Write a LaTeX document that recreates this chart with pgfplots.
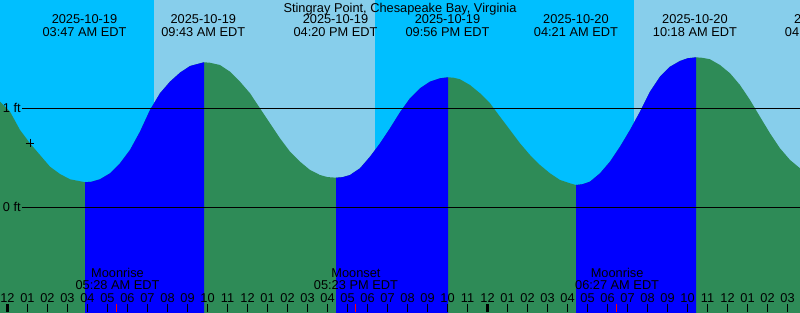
\documentclass[border=0pt]{standalone}
\usepackage{pgfplots}
\pgfplotsset{compat=1.18}
\usepackage{fontspec}
\setmainfont{Liberation Sans}
\definecolor{nightsky}{HTML}{00BFFF}
\definecolor{daysky}{HTML}{87CEEB}
\definecolor{ebb}{HTML}{2E8B57}
\definecolor{flood}{HTML}{0000FF}
\newcommand{\lf}{\fontsize{12.8}{14}\selectfont}
\begin{document}
\begin{tikzpicture}
\begin{axis}[
  scale only axis, width=800pt, height=312pt,
  xmin=-0.375, xmax=39.625, ymin=-1.058, ymax=2.094,
  axis line style={draw=none},
  axis on top=true,
  ytick=\empty,
  xtick={0,...,39},
  xticklabels={12,01,02,03,04,05,06,07,08,09,10,11,12,01,02,03,04,05,06,07,08,09,10,11,12,01,02,03,04,05,06,07,08,09,10,11,12,01,02,03},
  xtick pos=left,
  tick align=inside,
  major tick length=8pt,
  major tick style={black, line width=1pt},
  xticklabel style={font=\lf, anchor=base, yshift=10pt, inner sep=0pt},
  extra x ticks={0,24},
  extra x tick labels={},
  extra x tick style={major tick style={black, line width=2.5pt}},
]
% sky: night / day
\addplot[fill=nightsky, draw=none] coordinates {(-0.5,-1.1) (-0.5,2.2) (7.325,2.2) (7.325,-1.1)} -- cycle;
\addplot[fill=daysky, draw=none] coordinates {(7.325,-1.1) (7.325,2.2) (18.375,2.2) (18.375,-1.1)} -- cycle;
\addplot[fill=nightsky, draw=none] coordinates {(18.375,-1.1) (18.375,2.2) (31.325,2.2) (31.325,-1.1)} -- cycle;
\addplot[fill=daysky, draw=none] coordinates {(31.325,-1.1) (31.325,2.2) (40,2.2) (40,-1.1)} -- cycle;
% water level (falling tide colour under the whole curve)
\addplot[fill=ebb, draw=none] coordinates {
(-0.375,-1.1) (-0.375,1.067) (0.125,0.966) (0.625,0.781) (1.125,0.646) (1.625,0.528) (2.125,0.410) (2.625,0.336) (3.125,0.283) (3.875,0.253)
(4.2,0.258) (4.625,0.283) (5.125,0.343) (5.625,0.444) (6.125,0.579) (6.625,0.764) (7.125,0.983) (7.625,1.152) (8.125,1.269) (8.625,1.360) (9.125,1.427) (9.825,1.465)
(10.125,1.460) (10.625,1.437) (11.125,1.370) (11.625,1.269) (12.125,1.152) (12.625,1.000) (13.125,0.848) (13.625,0.697) (14.125,0.562) (14.625,0.461) (15.125,0.377) (15.625,0.326) (16.0,0.305) (16.425,0.299)
(16.75,0.304) (17.125,0.326) (17.625,0.394) (18.125,0.511) (18.625,0.646) (19.125,0.798) (19.625,0.960) (20.125,1.101) (20.625,1.202) (21.125,1.269) (21.625,1.303) (22.025,1.313)
(22.3,1.309) (22.625,1.293) (23.125,1.235) (23.625,1.152) (24.125,1.051) (24.625,0.915) (25.125,0.781) (25.625,0.646) (26.125,0.528) (26.625,0.427) (27.125,0.343) (27.625,0.276) (28.125,0.242) (28.425,0.225)
(28.75,0.233) (29.125,0.259) (29.625,0.343) (30.125,0.461) (30.625,0.612) (31.125,0.781) (31.625,0.966) (32.125,1.168) (32.625,1.319) (33.125,1.420) (33.625,1.478) (34.0,1.505) (34.425,1.515)
(34.75,1.51) (35.125,1.495) (35.625,1.437) (36.125,1.354) (36.625,1.235) (37.125,1.084) (37.625,0.915) (38.125,0.747) (38.625,0.596) (39.125,0.478) (39.625,0.394) (39.625,-1.1)
} -- cycle;
% rising tide segments
\addplot[fill=flood, draw=none] coordinates {
(3.875,-1.1) (3.875,0.253) (4.2,0.258) (4.625,0.283) (5.125,0.343) (5.625,0.444) (6.125,0.579) (6.625,0.764) (7.125,0.983) (7.625,1.152) (8.125,1.269) (8.625,1.360) (9.125,1.427) (9.825,1.465) (9.825,-1.1)
} -- cycle;
\addplot[fill=flood, draw=none] coordinates {
(16.425,-1.1) (16.425,0.299) (16.75,0.304) (17.125,0.326) (17.625,0.394) (18.125,0.511) (18.625,0.646) (19.125,0.798) (19.625,0.960) (20.125,1.101) (20.625,1.202) (21.125,1.269) (21.625,1.303) (22.025,1.313) (22.025,-1.1)
} -- cycle;
\addplot[fill=flood, draw=none] coordinates {
(28.425,-1.1) (28.425,0.225) (28.75,0.233) (29.125,0.259) (29.625,0.343) (30.125,0.461) (30.625,0.612) (31.125,0.781) (31.625,0.966) (32.125,1.168) (32.625,1.319) (33.125,1.420) (33.625,1.478) (34.0,1.505) (34.425,1.515) (34.425,-1.1)
} -- cycle;
% datum lines
\addplot[black, line width=1pt] coordinates {(0.725,1) (39.7,1)};
\addplot[black, line width=1pt] coordinates {(0.725,0) (39.7,0)};
% moon event ticks
\addplot[red, line width=1pt] coordinates {(5.467,-1.058) (5.467,-0.977)};
\addplot[red, line width=1pt] coordinates {(17.383,-1.058) (17.383,-0.977)};
\addplot[red, line width=1pt] coordinates {(30.45,-1.058) (30.45,-0.977)};
% current time marker
\addplot[black, only marks, mark=+, mark size=4.3pt, line width=1pt] coordinates {(1.125,0.649)};
% texts
\node[font=\lf, anchor=west, inner sep=0pt] at (axis cs:-0.24,1) {1 ft};
\node[font=\lf, anchor=west, inner sep=0pt] at (axis cs:-0.24,0) {0 ft};
\node[font=\lf, anchor=base] at (axis cs:19.625,1.968) {Stingray Point, Chesapeake Bay, Virginia};
\node[font=\lf, anchor=base] at (axis cs:3.85,1.852) {2025-10-19};
\node[font=\lf, anchor=base] at (axis cs:3.85,1.730) {03:47 AM EDT};
\node[font=\lf, anchor=base] at (axis cs:9.79,1.852) {2025-10-19};
\node[font=\lf, anchor=base] at (axis cs:9.79,1.730) {09:43 AM EDT};
\node[font=\lf, anchor=base] at (axis cs:16.40,1.852) {2025-10-19};
\node[font=\lf, anchor=base] at (axis cs:16.40,1.730) {04:20 PM EDT};
\node[font=\lf, anchor=base] at (axis cs:22.00,1.852) {2025-10-19};
\node[font=\lf, anchor=base] at (axis cs:22.00,1.730) {09:56 PM EDT};
\node[font=\lf, anchor=base] at (axis cs:28.42,1.852) {2025-10-20};
\node[font=\lf, anchor=base] at (axis cs:28.42,1.730) {04:21 AM EDT};
\node[font=\lf, anchor=base] at (axis cs:34.37,1.852) {2025-10-20};
\node[font=\lf, anchor=base] at (axis cs:34.37,1.730) {10:18 AM EDT};
\node[font=\lf, anchor=base] at (axis cs:40.97,1.852) {2025-10-20};
\node[font=\lf, anchor=base] at (axis cs:40.97,1.730) {04:57 PM EDT};
\node[font=\lf, anchor=base] at (axis cs:5.50,-0.714) {Moonrise};
\node[font=\lf, anchor=base] at (axis cs:5.50,-0.835) {05:28 AM EDT};
\node[font=\lf, anchor=base] at (axis cs:17.42,-0.714) {Moonset};
\node[font=\lf, anchor=base] at (axis cs:17.42,-0.835) {05:23 PM EDT};
\node[font=\lf, anchor=base] at (axis cs:30.48,-0.714) {Moonrise};
\node[font=\lf, anchor=base] at (axis cs:30.48,-0.835) {06:27 AM EDT};
\end{axis}
\pgfresetboundingbox
\path[use as bounding box] (current axis.south west) rectangle (current axis.north east);
\end{tikzpicture}
\end{document}
